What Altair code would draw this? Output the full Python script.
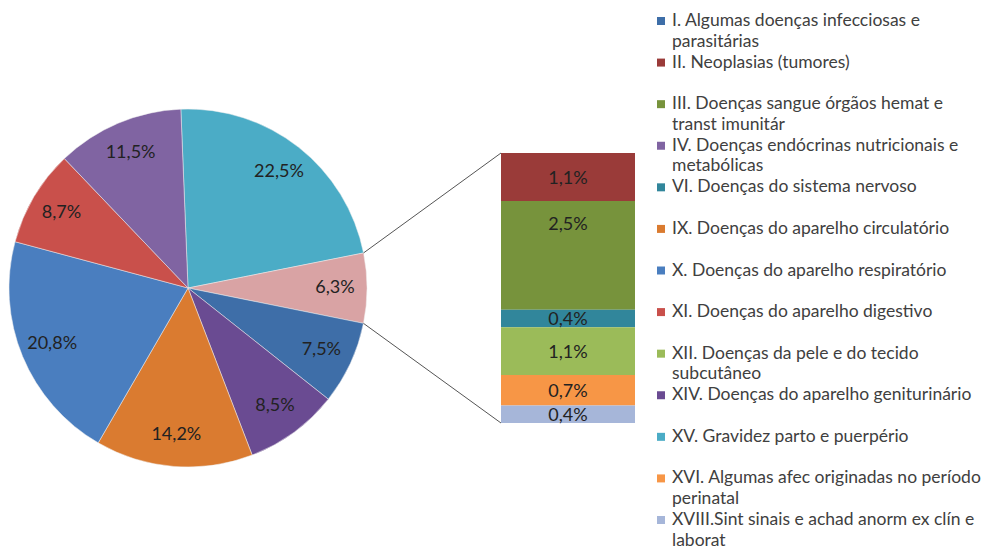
import math
import altair as alt
import pandas as pd

# ---------------- data ----------------
pie_codes = ["XV", "Outros", "I", "XIV", "IX", "X", "XI", "IV"]
pie_values = [22.5, 6.3, 7.5, 8.5, 14.2, 20.8, 8.7, 11.5]

bar_codes = ["II", "III", "VI", "XII", "XVI", "XVIII"]
bar_values = [1.1, 2.5, 0.4, 1.1, 0.7, 0.4]

legend_codes = ["I", "II", "III", "IV", "VI", "IX", "X", "XI", "XII", "XIV", "XV", "XVI", "XVIII"]
legend_labels = [
    "I. Algumas doenças infecciosas e\nparasitárias",
    "II. Neoplasias (tumores)",
    "III. Doenças sangue órgãos hemat e\ntranst imunitár",
    "IV. Doenças endócrinas nutricionais e\nmetabólicas",
    "VI. Doenças do sistema nervoso",
    "IX. Doenças do aparelho circulatório",
    "X. Doenças do aparelho respiratório",
    "XI. Doenças do aparelho digestivo",
    "XII. Doenças da pele e do tecido\nsubcutâneo",
    "XIV. Doenças do aparelho geniturinário",
    "XV. Gravidez parto e puerpério",
    "XVI. Algumas afec originadas no período\nperinatal",
    "XVIII.Sint sinais e achad anorm ex clín e\nlaborat",
]

color_domain = ["I", "II", "III", "IV", "VI", "IX", "X", "XI", "XII", "XIV", "XV", "XVI", "XVIII", "Outros"]
color_range = ["#3E6EA8", "#9A3B39", "#77933C", "#8064A2", "#31869B", "#DA7B30", "#4A7EBF",
               "#C9504B", "#9BBB59", "#6A4B92", "#4BACC6", "#F79646", "#A6B6D9", "#D9A3A4"]

# ---------------- layout ----------------
W, H = 977, 540
CX, CY, R = 180, 280, 179
START = -0.04  # rotation of first slice (radians)
BAR_X0, BAR_X1, BAR_TOP, BAR_BOTTOM = 493, 627, 145, 415
LEG_SQ_X, LEG_TXT_X, LEG_Y0, LEG_Y1 = 653, 664, 13, 512
FONT = "Lato"


def pct(v):
    return f"{v:.1f}".replace(".", ",") + "%"


color_scale = alt.Scale(domain=color_domain, range=color_range)

pie_df = pd.DataFrame({"code": pie_codes, "value": pie_values,
                       "idx": list(range(len(pie_codes))),
                       "label": [pct(v) for v in pie_values]})
bar_df = pd.DataFrame({"code": bar_codes, "value": bar_values,
                       "idx": list(range(len(bar_codes))),
                       "label": [pct(v) for v in bar_values]})
leg_df = pd.DataFrame({"code": legend_codes, "label": legend_labels,
                       "idx": list(range(len(legend_codes)))})

theta_scale = alt.Scale(range=[START, START + 2 * math.pi])

pie = alt.Chart(pie_df).mark_arc(outerRadius=R, stroke="#eeeeee", strokeWidth=0.5).encode(
    theta=alt.Theta("value:Q", stack=True, scale=theta_scale),
    order=alt.Order("idx:Q"),
    color=alt.Color("code:N", scale=color_scale, legend=None),
    x=alt.value(CX), y=alt.value(CY),
)

pie_text = alt.Chart(pie_df).mark_text(radius=147, font=FONT, fontSize=18, color="#222222").encode(
    theta=alt.Theta("value:Q", stack=True, scale=theta_scale),
    order=alt.Order("idx:Q"),
    text="label:N",
    x=alt.value(CX), y=alt.value(CY),
)

bar_total = sum(bar_values)
bar_y_scale = alt.Scale(domain=[0, bar_total], range=[BAR_BOTTOM, BAR_TOP])

bar_base = alt.Chart(bar_df).transform_stack(
    stack="value", groupby=[], as_=["y0", "y1"],
    sort=[alt.SortField("idx", order="descending")],
)

bar = bar_base.mark_rect().encode(
    y=alt.Y("y0:Q", scale=bar_y_scale, axis=None),
    y2="y1:Q",
    x=alt.value(BAR_X0), x2=alt.value(BAR_X1),
    color=alt.Color("code:N", scale=color_scale, legend=None),
)

bar_text = bar_base.transform_calculate(
    mid="datum.value > 2 ? datum.y1 - 0.5 : (datum.y0 + datum.y1) / 2"
).mark_text(font=FONT, fontSize=18, color="#222222", dy=2).encode(
    y=alt.Y("mid:Q", scale=bar_y_scale, axis=None),
    x=alt.value((BAR_X0 + BAR_X1) / 2),
    text="label:N",
)

# connector lines from the "other" slice to the bar
cum_before = sum(pie_values[:pie_codes.index("Outros")])
other = pie_values[pie_codes.index("Outros")]
total = sum(pie_values)
a1 = START + 2 * math.pi * cum_before / total
a2 = START + 2 * math.pi * (cum_before + other) / total
lines_df = pd.DataFrame({
    "x": [CX + R * math.sin(a1), CX + R * math.sin(a2)],
    "y": [CY - R * math.cos(a1), CY - R * math.cos(a2)],
    "x2": [BAR_X0, BAR_X0],
    "y2": [BAR_TOP, BAR_BOTTOM],
})
lines = alt.Chart(lines_df).mark_rule(color="#555555", strokeWidth=1).encode(
    x=alt.X("x:Q", scale=None), y=alt.Y("y:Q", scale=None),
    x2="x2:Q", y2="y2:Q",
)

leg_y_scale = alt.Scale(domain=[0, len(legend_codes) - 1], range=[LEG_Y0, LEG_Y1])
leg_sq = alt.Chart(leg_df).mark_square(size=64, opacity=1).encode(
    x=alt.value(LEG_SQ_X),
    y=alt.Y("idx:Q", scale=leg_y_scale, axis=None),
    color=alt.Color("code:N", scale=color_scale, legend=None),
)
leg_txt = alt.Chart(leg_df).mark_text(
    align="left", baseline="top", lineBreak="\n", font=FONT, fontSize=17.5,
    lineHeight=20.5, dy=-9, color="#404040",
).encode(
    x=alt.value(LEG_TXT_X),
    y=alt.Y("idx:Q", scale=leg_y_scale, axis=None),
    text="label:N",
)

chart = alt.layer(pie, pie_text, lines, bar, bar_text, leg_sq, leg_txt).resolve_scale(
    y="independent", x="independent"
).properties(
    width=W, height=H, padding=0, autosize="none"
).configure_view(stroke=None)

chart.save("out.html", embed_options={"renderer": "svg", "actions": False})
